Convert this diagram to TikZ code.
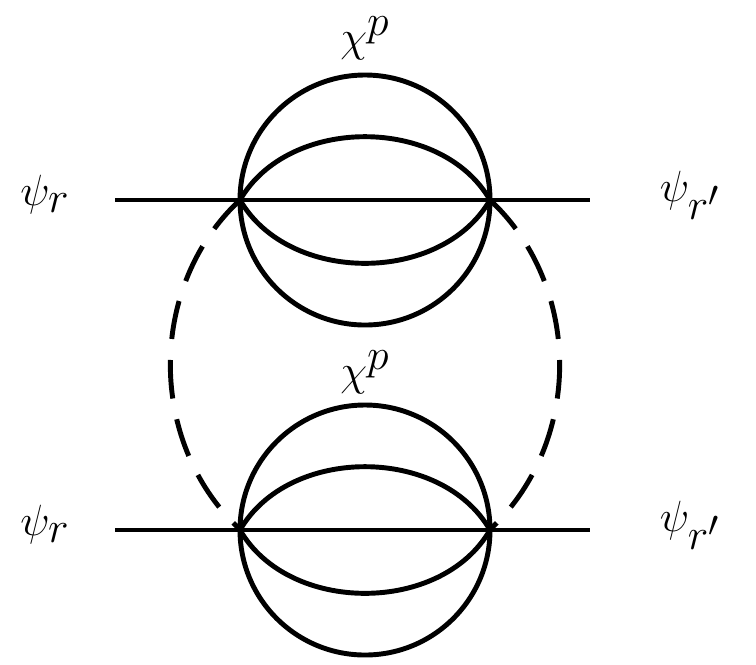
\documentclass[tikz,border=0pt]{standalone}
\usepackage{amsmath}
\begin{document}
\begin{tikzpicture}[x=0.02cm,y=-0.02cm]
\tikzset{ line/.style={line width=2.8pt}, lbl/.style={font=\fontsize{40}{44}\selectfont}, }

\useasboundingbox (0,0) rectangle (756,664);

%\draw [lightgray, dashed](0,0) grid (756,664);

\coordinate (LA) at (115,200);
\coordinate (RA) at (590,200);
\coordinate (VA1) at (240,200);
\coordinate (VA2) at (490,200);
\coordinate (CA) at (365,200);

\coordinate (LB) at (115,530);
\coordinate (RB) at (590,530);
\coordinate (VB1) at (240,530);
\coordinate (VB2) at (490,530);
\coordinate (CB) at (365,530);

\draw [line] (LA) -- (RA);
\draw [line] (CA) circle [radius=125*0.02cm];
\draw [line] (VA1) to [bend right=60] (VA2);
\draw [line] (VA1) to [bend left=60] (VA2);

\draw [line] (LB) -- (RB);
\draw [line] (CB) circle [radius=125*0.02cm];
\draw [line] (VB1) to [bend right=60] (VB2);
\draw [line] (VB1) to [bend left=60] (VB2);

\draw [line, dash pattern=on 22pt off 12pt] (VA1) arc [start angle=-130, end angle=-230, x radius=195*0.02cm, y radius=-215*0.02cm];
\draw [line, dash pattern=on 22pt off 12pt] (VA2) arc [start angle=-50, end angle=50, x radius=195*0.02cm, y radius=-215*0.02cm];

\node [lbl] (psiA) at (45,195) {$\psi_r$};
\node [lbl] (psipA) at (690,195) {$\psi_{r'}$};
\node [lbl] (chiA) at (365,38) {$\chi^p$};

\node [lbl] (psiB) at (45,525) {$\psi_r$};
\node [lbl] (psipB) at (690,525) {$\psi_{r'}$};
\node [lbl] (chiB) at (365,372) {$\chi^p$};

\end{tikzpicture}
\end{document}
